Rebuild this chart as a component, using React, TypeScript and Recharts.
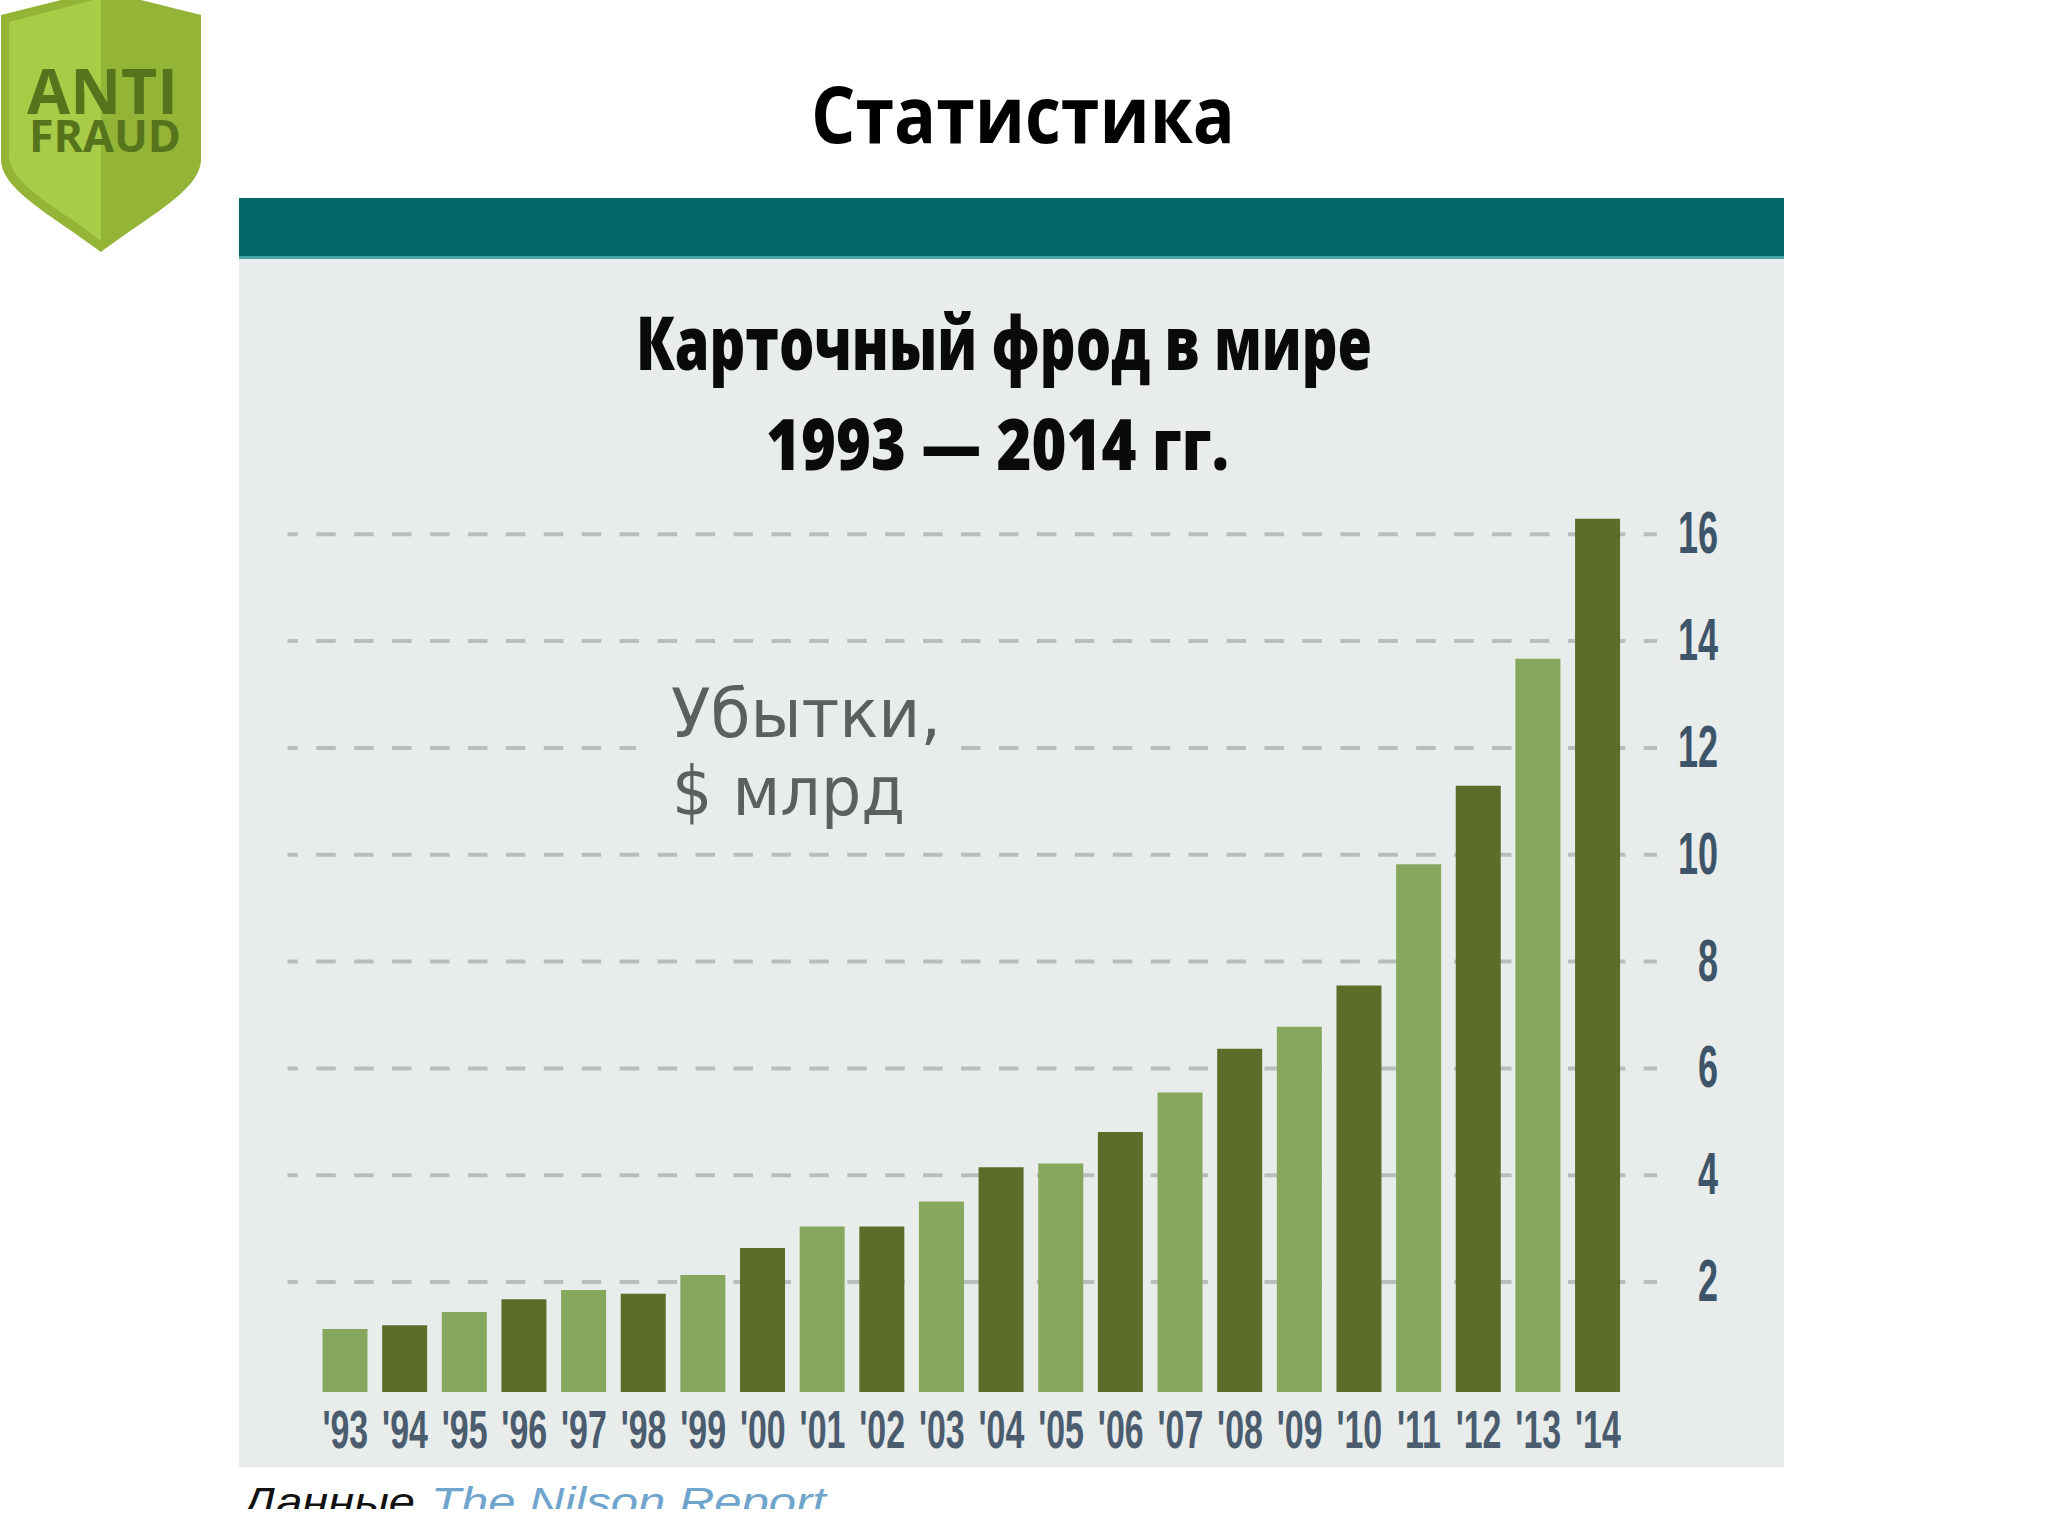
import { BarChart, Bar, Cell, CartesianGrid, XAxis, YAxis } from "recharts";

const years = ["'93", "'94", "'95", "'96", "'97", "'98", "'99", "'00", "'01", "'02", "'03", "'04", "'05", "'06", "'07", "'08", "'09", "'10", "'11", "'12", "'13", "'14"];
const losses = [1.12, 1.19, 1.44, 1.68, 1.85, 1.78, 2.13, 2.64, 3.04, 3.04, 3.51, 4.15, 4.22, 4.81, 5.55, 6.37, 6.78, 7.55, 9.82, 11.29, 13.67, 16.29];
const yTicks = [2, 4, 6, 8, 10, 12, 14, 16];
const barColors = ["#86a85e", "#5e6c2a"];

// bars sit slightly below the zero level in the picture
const barFloor = -0.058;

const data = years.map((year, i) => ({ year, loss: losses[i] }));

// tick digits are very condensed in the original, so squeeze them horizontally
const XTick = ({ x, y, payload }: any) => (
  <g transform={`translate(${x},${y + 56}) scale(0.64,1)`}>
    <text textAnchor="middle" fontFamily="Liberation Sans" fontWeight={700} fontSize={53} fill="#4a5c6e">
      {payload.value}
    </text>
  </g>
);

const YTick = ({ x, y, payload }: any) => (
  <g transform={`translate(${x + 61},${y + 19}) scale(0.6,1)`}>
    <text textAnchor="end" fontFamily="Liberation Sans" fontWeight={700} fontSize={60} fill="#3e5468">
      {payload.value}
    </text>
  </g>
);

const Shield = () => (
  <g>
    <path d="M1 15 L101 -10 L201 15 L201 159 C201 190 150 215 101 252 C52 215 1 190 1 159 Z" fill="#93b436" />
    <path d="M9 22 L101 -2 L101 241 C60 208 9 185 9 155 Z" fill="#a8cc48" />
    <text x={27} y={114} fontFamily="Open Sans" fontWeight={700} fontSize={62} fill="#56741c" textLength={151} lengthAdjust="spacingAndGlyphs">ANTI</text>
    <text x={29} y={152} fontFamily="Open Sans" fontWeight={700} fontSize={44} fill="#56741c" textLength={152} lengthAdjust="spacingAndGlyphs">FRAUD</text>
  </g>
);

export default function App() {
  return (
    <div style={{ position: "absolute", left: 0, top: 0, width: 2048, height: 1536, background: "#fff", overflow: "hidden" }}>
      <div style={{ position: "absolute", left: 239, top: 198, width: 1545, height: 58, background: "#01676b" }} />
      <div style={{ position: "absolute", left: 239, top: 256, width: 1545, height: 3, background: "#4aa3a6" }} />
      <div style={{ position: "absolute", left: 239, top: 259, width: 1545, height: 1208, background: "#e8ecea" }} />

      <div style={{ position: "absolute", left: 0, top: 0 }}>
        <BarChart width={2048} height={1536} data={data} margin={{ top: 480.8, right: 330, bottom: 84, left: 287.5 }} barSize={45}>
          <CartesianGrid vertical={false} syncWithTicks stroke="#b9bdbc" strokeWidth={4} strokeDasharray="19.5 18.43" strokeDashoffset={9.2} />
          <XAxis dataKey="year" height={60} interval={0} axisLine={false} tickLine={false} tickSize={0} tickMargin={0} padding={{ left: 28, right: 29.3 }} tick={<XTick />} />
          <YAxis orientation="right" width={61} domain={[barFloor, 17]} ticks={yTicks} allowDataOverflow axisLine={false} tickLine={false} tickSize={0} tickMargin={0} tick={<YTick />} />
          <Bar dataKey={(d: any) => [barFloor, d.loss]} isAnimationActive={false}>
            {data.map((d, i) => (
              <Cell key={d.year} fill={barColors[i % 2]} />
            ))}
          </Bar>
        </BarChart>
      </div>

      <svg width={2048} height={1536} style={{ position: "absolute", left: 0, top: 0, pointerEvents: "none" }}>
        <defs>
          <clipPath id="footerClip">
            <rect x={0} y={1470} width={2048} height={39} />
          </clipPath>
        </defs>
        <Shield />
        <text x={811} y={143} fontFamily="Open Sans" fontWeight={700} fontSize={78} fill="#000" textLength={424} lengthAdjust="spacingAndGlyphs">Статистика</text>
        <text x={636} y={370} fontFamily="Open Sans" fontWeight={800} fontSize={74} fill="#0a0a0a" textLength={736} lengthAdjust="spacingAndGlyphs">Карточный фрод в мире</text>
        <text x={766} y={470} fontFamily="Open Sans" fontWeight={800} fontSize={70} fill="#0a0a0a" textLength={463} lengthAdjust="spacingAndGlyphs">1993 — 2014 гг.</text>

        <rect x={636} y={738} width={323} height={20} fill="#e8ecea" />
        <text x={671} y={737} fontFamily="DejaVu Sans" fontSize={68} fill="#5a6060" textLength={270} lengthAdjust="spacingAndGlyphs">Убытки,</text>
        <text x={672} y={815} fontFamily="DejaVu Sans" fontSize={68} fill="#5a6060" textLength={233} lengthAdjust="spacingAndGlyphs">$ млрд</text>

        <g clipPath="url(#footerClip)" fontFamily="Liberation Sans" fontStyle="italic" fontSize={40}>
          <text x={243} y={1516} fill="#111" textLength={172} lengthAdjust="spacingAndGlyphs">Данные</text>
          <text x={431} y={1516} fill="#6fa5cc" textLength={395} lengthAdjust="spacingAndGlyphs">The Nilson Report</text>
        </g>
      </svg>
    </div>
  );
}
